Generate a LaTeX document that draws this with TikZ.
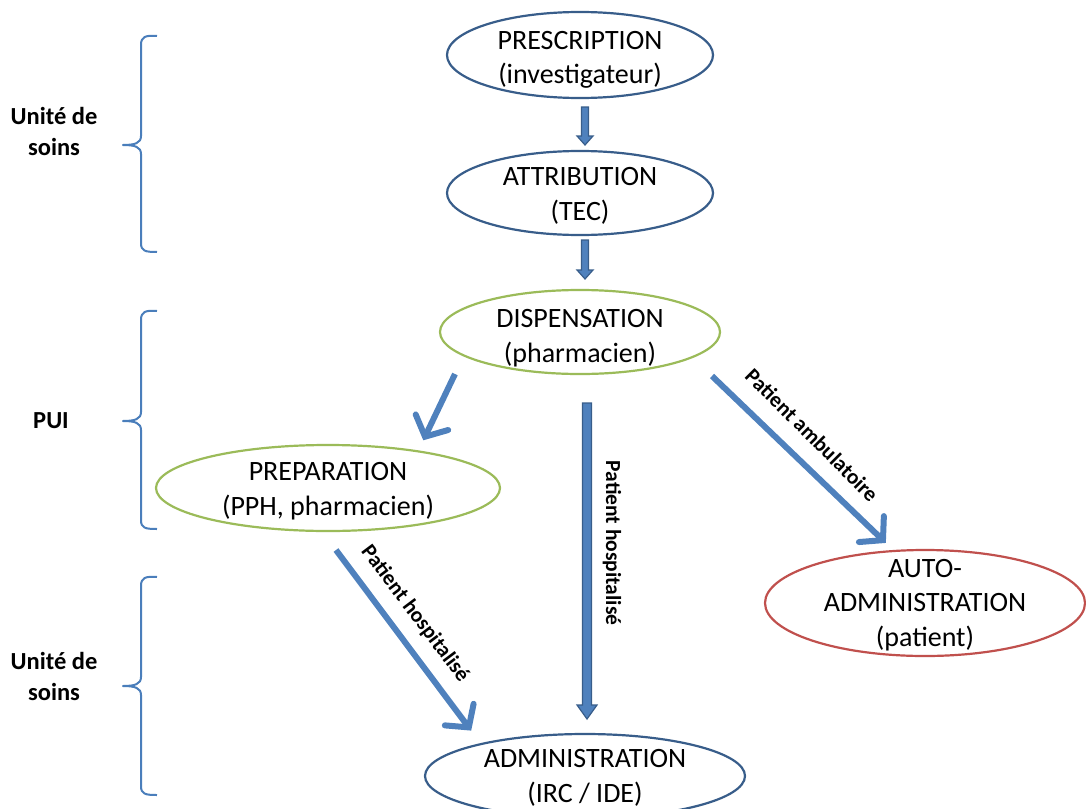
\documentclass[tikz,border=0pt]{standalone}
\usepackage{fontspec}
\setmainfont{Carlito}
\usetikzlibrary{shapes.geometric,arrows.meta}
\definecolor{bluee}{HTML}{385D8A}
\definecolor{greene}{HTML}{9BBB59}
\definecolor{rede}{HTML}{C0504D}
\definecolor{arrowblue}{HTML}{4F81BD}
\definecolor{blockfill}{HTML}{4F81BD}
\definecolor{blockline}{HTML}{385D8A}
\definecolor{bracecol}{HTML}{4A7EBB}
\tikzset{
  ell/.style={ellipse, draw, line width=2.2pt, inner sep=0pt},
  blue ell/.style={ell, draw=bluee},
  green ell/.style={ell, draw=greene},
  red ell/.style={ell, draw=rede},
  elltext/.style={align=center, inner sep=0pt, font=\fontsize{28}{34.5}\selectfont},
  linearrow/.style={draw=arrowblue, line width=6pt,
    -{Straight Barb[length=16pt,width=36pt,line cap=round]}, shorten >=3pt},
  sidelabel/.style={font=\bfseries\fontsize{24.5}{31}\selectfont, align=center},
  arrlabel/.style={font=\bfseries\fontsize{21.5}{24}\selectfont, inner sep=0pt},
  bracestyle/.style={draw=bracecol, line width=2pt, line join=round},
  block/.style={fill=blockfill, draw=blockline, line width=1.2pt, line join=miter}
}
\begin{document}
\begin{tikzpicture}[x=1pt,y=-1pt]
\useasboundingbox (0,0) rectangle (1086,808);

% ellipses
\node[blue ell, minimum width=266pt, minimum height=86pt] (presc) at (580,55) {};
\node[blue ell, minimum width=266pt, minimum height=84pt] (attr) at (580,193) {};
\node[green ell, minimum width=280pt, minimum height=84pt] (disp) at (580,332) {};
\node[green ell, minimum width=344pt, minimum height=86pt] (prep) at (328,488) {};
\node[red ell, minimum width=320pt, minimum height=106pt] (auto) at (925,603) {};
\node[blue ell, minimum width=320pt, minimum height=84pt] (admin) at (585,776) {};

% ellipse texts
\node[elltext] (presc-t) at (580,60) {PRESCRIPTION\\(investigateur)};
\node[elltext] (attr-t) at (580,196) {ATTRIBUTION\\(TEC)};
\node[elltext] (disp-t) at (580,338) {DISPENSATION\\(pharmacien)};
\node[elltext] (prep-t) at (328,491) {PREPARATION\\(PPH, pharmacien)};
\node[elltext] (auto-t) at (925,605) {AUTO-\\ADMINISTRATION\\(patient)};
\node[elltext] (admin-t) at (585,778) {ADMINISTRATION\\(IRC / IDE)};

% block arrows
\draw[block] (581.5,107) -- (588.5,107) -- (588.5,136) -- (593,136) -- (585,145)
  -- (577,136) -- (581.5,136) -- cycle;
\draw[block] (581.5,240) -- (588.5,240) -- (588.5,270) -- (593,270) -- (585,279)
  -- (577,270) -- (581.5,270) -- cycle;
\draw[block] (582.5,403) -- (591.5,403) -- (591.5,705) -- (597,705) -- (587,719)
  -- (577,705) -- (582.5,705) -- cycle;

% line arrows
\coordinate (d1) at (455,374);
\coordinate (d1e) at (422,443);
\draw[linearrow] (d1) -- (d1e);
\coordinate (p1) at (336,550);
\coordinate (p1e) at (473,733);
\draw[linearrow] (p1) -- (p1e);
\coordinate (a1) at (712,376);
\coordinate (a1e) at (888,545);
\draw[linearrow] (a1) -- (a1e);

% arrow labels
\node[arrlabel, rotate=-90] (l1) at (612,543) {Patient hospitalisé};
\node[arrlabel, rotate=-53] (l2) at (415,614) {Patient hospitalisé};
\node[arrlabel, rotate=-45] (l3) at (812,435) {Patient ambulatoire};

% braces
\draw[bracestyle] (157,36) .. controls (145,35) and (141,37) .. (141,45) -- (141,136)
  .. controls (141,143) and (135,145) .. (123,145)
  .. controls (135,145) and (141,147) .. (141,154) -- (141,243)
  .. controls (141,251) and (145,252) .. (157,252);
\draw[bracestyle] (157,311) .. controls (145,310) and (141,312) .. (141,320) -- (141,412)
  .. controls (141,419) and (135,421) .. (123,421)
  .. controls (135,421) and (141,423) .. (141,430) -- (141,520)
  .. controls (141,528) and (145,529) .. (157,529);
\draw[bracestyle] (157,577) .. controls (145,576) and (141,578) .. (141,586) -- (141,677)
  .. controls (141,684) and (135,686) .. (123,686)
  .. controls (135,686) and (141,688) .. (141,695) -- (141,786)
  .. controls (141,794) and (145,795) .. (157,795);

% side labels
\node[sidelabel] (s1) at (54,131) {Unité de\\soins};
\node[sidelabel] (s2) at (51,421) {PUI};
\node[sidelabel] (s3) at (54,676) {Unité de\\soins};
\end{tikzpicture}
\end{document}
